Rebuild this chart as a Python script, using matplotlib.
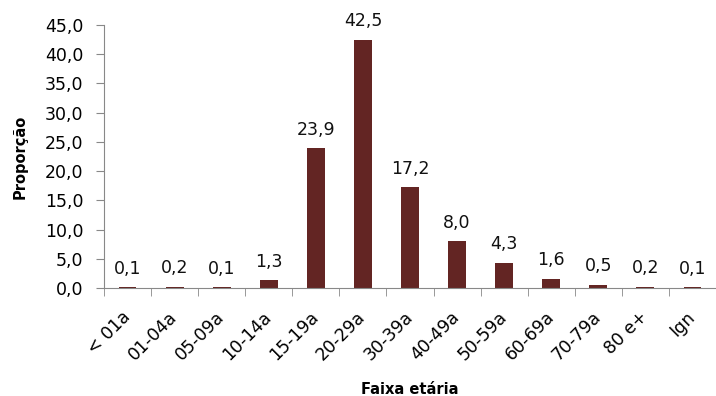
import matplotlib
matplotlib.use("Agg")
import matplotlib.pyplot as plt
from matplotlib.ticker import FixedLocator, NullFormatter
from matplotlib.transforms import ScaledTranslation

categories = ["< 01a", "01-04a", "05-09a", "10-14a", "15-19a", "20-29a", "30-39a",
              "40-49a", "50-59a", "60-69a", "70-79a", "80 e+", "Ign"]
values = [0.1, 0.2, 0.1, 1.3, 23.9, 42.5, 17.2, 8.0, 4.3, 1.6, 0.5, 0.2, 0.1]
yticks = [0, 5, 10, 15, 20, 25, 30, 35, 40, 45]

plt.rcParams["font.family"] = ["DejaVu Sans"]

fig = plt.figure(figsize=(7.16, 3.96), dpi=100)
ax = fig.add_axes([104 / 716, 1 - 288 / 396, (716 - 104) / 716, (288 - 25) / 396])

x = list(range(len(categories)))
ax.bar(x, values, width=0.38, color="#632523", zorder=2)

for xi, v in zip(x, values):
    ax.annotate(f"{v:.1f}".replace(".", ","), (xi, v), xytext=(0, 7),
                textcoords="offset points", ha="center", va="bottom",
                fontsize=12.5, color="#111111")

ax.set_xlim(-0.5, len(categories) - 0.5)
ax.set_ylim(0, 45)
ax.set_yticks(yticks)
ax.set_yticklabels([f"{t:.1f}".replace(".", ",") for t in yticks], fontsize=12.5)

ax.set_xticks(x)
ax.set_xticklabels(categories, rotation=45, ha="right", va="center",
                   rotation_mode="anchor", fontsize=12.5)
shift = ScaledTranslation(6 / 100, 0, fig.dpi_scale_trans)
for lab in ax.get_xticklabels():
    lab.set_transform(lab.get_transform() + shift)
ax.tick_params(axis="x", which="major", length=0, pad=19)
ax.xaxis.set_minor_locator(FixedLocator([i - 0.5 for i in range(len(categories) + 1)]))
ax.xaxis.set_minor_formatter(NullFormatter())
ax.tick_params(axis="x", which="minor", length=6, color="#888888", direction="out")
ax.tick_params(axis="y", length=6, color="#888888", direction="out", pad=9)

for side in ("top", "right"):
    ax.spines[side].set_visible(False)
for side in ("left", "bottom"):
    ax.spines[side].set_color("#888888")

ax.set_ylabel("Proporção", fontsize=10.5, fontweight="bold", labelpad=12)
ax.set_xlabel("Faixa etária", fontsize=10.5, fontweight="bold", labelpad=13)

fig.savefig("out.png", dpi=100)
